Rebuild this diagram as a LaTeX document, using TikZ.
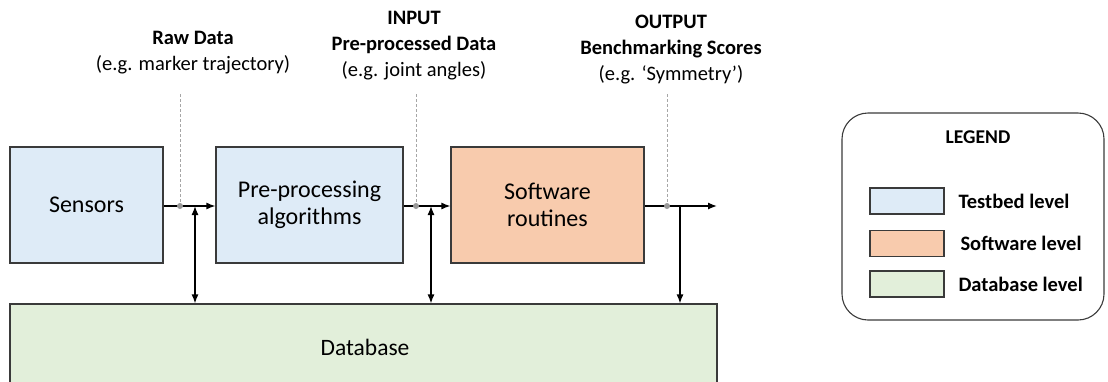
\documentclass[tikz,border=0pt]{standalone}
\usepackage{fontspec}
\setmainfont{Carlito}
\usetikzlibrary{arrows.meta}
\definecolor{bluef}{HTML}{DEEBF7}
\definecolor{orangef}{HTML}{F8CBAD}
\definecolor{greenf}{HTML}{E2EFDA}
\definecolor{edge}{HTML}{3A3A3A}
\tikzset{
  blk/.style={draw=edge, line width=1.2pt, inner sep=0pt, align=center, font=\fontsize{24}{27}\selectfont},
  swatch/.style={draw=edge, line width=1.1pt, minimum width=74pt, minimum height=26pt, inner sep=0pt},
  lab/.style={align=center, font=\fontsize{20.5}{26}\selectfont},
  leglab/.style={anchor=west, font=\bfseries\fontsize{20.5}{22}\selectfont},
  flow/.style={line width=1.3pt, -{Latex[length=9pt,width=7pt]}},
  dbl/.style={line width=1.3pt, {Latex[length=9pt,width=7pt]}-{Latex[length=9pt,width=7pt]}},
  probe/.style={draw=gray!70, line width=0.8pt, dashed, dash pattern=on 3pt off 2pt},
  dot/.style={circle, fill=gray!80, inner sep=0pt, minimum size=6pt}
}
\begin{document}
\begin{tikzpicture}[x=1pt,y=-1pt]
\useasboundingbox (0,0) rectangle (1108,381);
\clip (0,0) rectangle (1108,381);
% main boxes
\node[blk, fill=bluef, minimum width=153pt, minimum height=116pt] (sens) at (86.5,205) {Sensors};
\node[blk, fill=bluef, minimum width=187pt, minimum height=116pt] (prep) at (309.5,205) {Pre-processing\\algorithms};
\node[blk, fill=orangef, minimum width=193pt, minimum height=116pt] (soft) at (547.5,205) {Software\\routines};
\node[blk, fill=greenf, minimum width=707pt, minimum height=110pt] (db) at (363.5,359) {};
\node[font=\fontsize{23.5}{26}\selectfont] (dbt) at (365,347) {Database};
% output end
\coordinate (out) at (717,206);
% flow arrows
\draw[flow] (sens.east |- 0,206) -- (prep.west |- 0,206);
\draw[flow] (prep.east |- 0,206) -- (soft.west |- 0,206);
\draw[flow] (soft.east |- 0,206) -- (out);
% junctions
\coordinate (j1) at (195,206);
\coordinate (j2) at (431,206);
\coordinate (j3) at (680,206);
\draw[dbl] (j1) -- (j1 |- db.north);
\draw[dbl] (j2) -- (j2 |- db.north);
\draw[flow] (j3) -- (j3 |- db.north);
% probe points
\node[dot] (p1) at (180,206) {};
\node[dot] (p2) at (416,206) {};
\node[dot] (p3) at (667,206) {};
\coordinate (t1) at (180,94);
\coordinate (t2) at (416,94);
\coordinate (t3) at (667,94);
\draw[probe] (t1) -- (p1);
\draw[probe] (t2) -- (p2);
\draw[probe] (t3) -- (p3);
% labels
\node[lab] (l1) at (193,53) {\textbf{Raw Data}\\(e.g. marker trajectory)};
\node[lab] (l2) at (414,46) {\textbf{INPUT}\\\textbf{Pre-processed Data}\\(e.g. joint angles)};
\node[lab] (l3) at (671,50) {\textbf{OUTPUT}\\\textbf{Benchmarking Scores}\\(e.g. `Symmetry')};
% legend
\draw[draw=edge, line width=1.1pt, rounded corners=26pt] (842,113) rectangle (1104,320);
\node[font=\bfseries\fontsize{19.5}{22}\selectfont] (legt) at (978,137) {LEGEND};
\node[swatch, fill=bluef] (s1) at (907,201) {};
\node[swatch, fill=orangef] (s2) at (907,243.5) {};
\node[swatch, fill=greenf] (s3) at (907,284) {};
\node[leglab] (g1) at (955,201) {Testbed level};
\node[leglab] (g2) at (957,243) {Software level};
\node[leglab] (g3) at (955,284) {Database level};
\end{tikzpicture}
\end{document}
